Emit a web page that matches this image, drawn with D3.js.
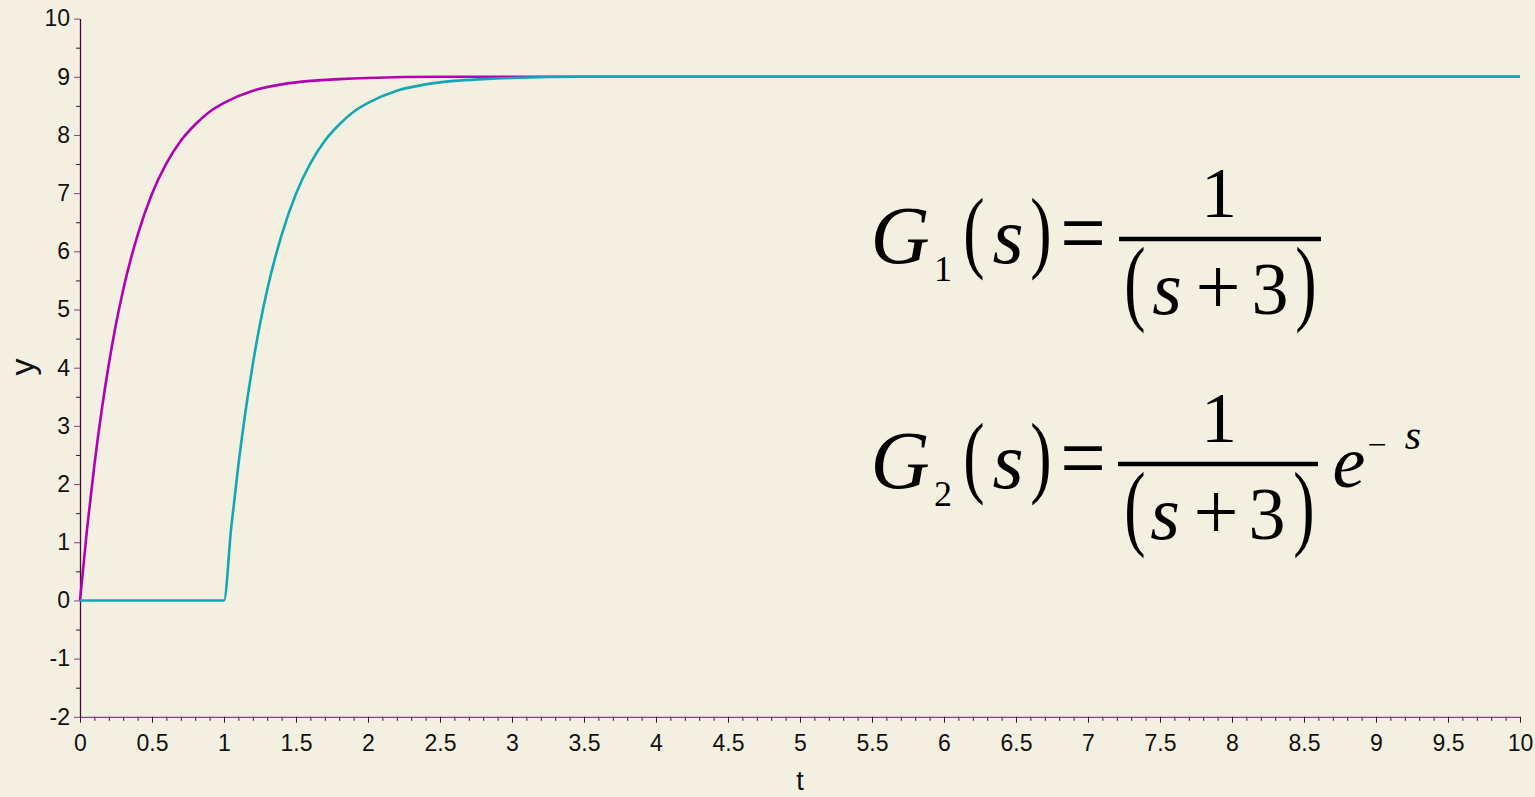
<!DOCTYPE html>
<html>
<head>
<meta charset="utf-8">
<script src="https://cdn.jsdelivr.net/npm/d3@7"></script>
<style>
  html, body { margin: 0; padding: 0; background: #f4f0e1; overflow: hidden; }
  text { font-family: "Liberation Sans", Arial, sans-serif; }
  .eq text { font-family: "Liberation Serif", "Times New Roman", serif; fill: #000; }
</style>
</head>
<body>
<div id="chart"></div>
<script>
// Step responses of G1(s) = 1/(s+3) and G2(s) = e^{-s}/(s+3)

// Time samples and response for G1 (no delay)
const tG1 = [0, 0.05, 0.1, 0.15, 0.2, 0.25, 0.3, 0.4, 0.5, 0.6, 0.7, 0.8, 0.9, 1.0,
             1.2, 1.4, 1.6, 1.8, 2.0, 2.5, 3.0, 4, 5, 6, 7, 8, 9, 10];
const yG1 = [0, 1.25, 2.33, 3.26, 4.06, 4.75, 5.34, 6.28, 6.99, 7.51, 7.90, 8.18, 8.40, 8.55,
             8.76, 8.87, 8.93, 8.96, 8.98, 9.0, 9.0, 9.0, 9.0, 9.0, 9.0, 9.0, 9.0, 9.0];

// Time samples and response for G2 (one second dead time)
const tG2 = [0, 0.5, 1.0, 1.05, 1.1, 1.15, 1.2, 1.25, 1.3, 1.4, 1.5, 1.6, 1.7, 1.8, 1.9, 2.0,
             2.2, 2.4, 2.6, 2.8, 3.0, 3.5, 4, 5, 6, 7, 8, 9, 10];
const yG2 = [0, 0, 0, 1.25, 2.33, 3.26, 4.06, 4.75, 5.34, 6.28, 6.99, 7.51, 7.90, 8.18, 8.40, 8.55,
             8.76, 8.87, 8.93, 8.96, 8.98, 9.0, 9.0, 9.0, 9.0, 9.0, 9.0, 9.0, 9.0];

// Tick values and labels
const xTicks = [0, 0.5, 1, 1.5, 2, 2.5, 3, 3.5, 4, 4.5, 5, 5.5, 6, 6.5, 7, 7.5, 8, 8.5, 9, 9.5, 10];
const xTickLabels = ["0", "0.5", "1", "1.5", "2", "2.5", "3", "3.5", "4", "4.5", "5", "5.5",
                     "6", "6.5", "7", "7.5", "8", "8.5", "9", "9.5", "10"];
const yTicks = [-2, -1, 0, 1, 2, 3, 4, 5, 6, 7, 8, 9, 10];
const yTickLabels = ["-2", "-1", "0", "1", "2", "3", "4", "5", "6", "7", "8", "9", "10"];

const W = 1535, H = 797;

const svg = d3.select("#chart")
  .append("svg")
    .attr("width", W)
    .attr("height", H)
    .style("display", "block");

svg.append("rect").attr("width", W).attr("height", H).attr("fill", "#f4f0e1");

// Scales
const x = d3.scaleLinear().domain([0, 10]).range([80, 1520]);
const y = d3.scaleLinear().domain([-2, 10]).range([716.8, 18.6]);

// Minor ticks (every 0.1 on t, every 0.5 on y)
const xMinor = d3.range(0, 101).map(i => i / 10).filter(v => Math.abs(v * 2 - Math.round(v * 2)) > 1e-6);
const yMinor = d3.range(-4, 21).map(i => i / 2).filter(v => v % 1 !== 0);

const axisColor = "#3e1039";

svg.append("g")
  .attr("transform", `translate(0,${y(-2)})`)
  .call(d3.axisBottom(x).tickValues(xMinor).tickSize(4).tickFormat(""))
  .call(g => g.select(".domain").remove())
  .call(g => g.selectAll("line").attr("stroke", axisColor));

svg.append("g")
  .attr("transform", `translate(${x(0)},0)`)
  .call(d3.axisLeft(y).tickValues(yMinor).tickSize(4).tickFormat(""))
  .call(g => g.select(".domain").remove())
  .call(g => g.selectAll("line").attr("stroke", axisColor));

// Major x axis
svg.append("g")
  .attr("transform", `translate(0,${y(-2)})`)
  .call(d3.axisBottom(x).tickValues(xTicks).tickSize(6).tickSizeOuter(0).tickPadding(12)
        .tickFormat((d, i) => xTickLabels[i]))
  .call(g => g.select(".domain").attr("stroke", "#8c3c86").attr("stroke-width", 1.3))
  .call(g => g.selectAll(".tick line").attr("stroke", axisColor))
  .call(g => g.selectAll("text").attr("font-size", 23).attr("fill", "#111")
        .attr("font-family", "Liberation Sans, Arial, sans-serif"));

// Major y axis
svg.append("g")
  .attr("transform", `translate(${x(0)},0)`)
  .call(d3.axisLeft(y).tickValues(yTicks).tickSize(6).tickSizeOuter(0).tickPadding(4)
        .tickFormat((d, i) => yTickLabels[i]))
  .call(g => g.select(".domain").attr("stroke", axisColor).attr("stroke-width", 1.3))
  .call(g => g.selectAll(".tick line").attr("stroke", "#8c3c86"))
  .call(g => g.selectAll("text").attr("font-size", 23).attr("fill", "#111")
        .attr("font-family", "Liberation Sans, Arial, sans-serif"));

// Axis titles
svg.append("text")
  .attr("x", 800).attr("y", 790)
  .attr("text-anchor", "middle")
  .attr("font-size", 27).attr("fill", "#111")
  .text("t");

svg.append("text")
  .attr("transform", `translate(34,367) rotate(-90)`)
  .attr("text-anchor", "middle")
  .attr("font-size", 34).attr("fill", "#111")
  .text("y");

// Response curves
const line = d3.line()
  .x(d => x(d[0]))
  .y(d => y(d[1]))
  .curve(d3.curveMonotoneX);

svg.append("path")
  .datum(tG1.map((t, i) => [t, yG1[i]]))
  .attr("fill", "none")
  .attr("stroke", "#b300b3")
  .attr("stroke-width", 2.6)
  .attr("d", line);

svg.append("path")
  .datum(tG2.map((t, i) => [t, yG2[i]]))
  .attr("fill", "none")
  .attr("stroke", "#12a7b7")
  .attr("stroke-width", 2.6)
  .attr("d", line);

// Transfer function annotations
const eq = svg.append("g").attr("class", "eq");

function glyph(g, str, cx, base, size, italic, sx, sy) {
  g.append("text")
    .attr("transform", `translate(${cx},${base}) scale(${sx || 1},${sy || 1})`)
    .attr("text-anchor", "middle")
    .attr("font-size", size)
    .attr("font-style", italic ? "italic" : "normal")
    .text(str);
}

function leftSide(dy, sub) {
  const g = eq.append("g").attr("transform", `translate(0,${dy})`);
  glyph(g, "G", 900, 263, 82, true);
  glyph(g, sub, 943, 281, 36, false);
  glyph(g, "(", 974, 261, 64, false, 1, 1.41);
  glyph(g, "s", 1008, 263, 80, true);
  glyph(g, ")", 1041, 261, 64, false, 1, 1.41);
  glyph(g, "=", 1083, 264, 94, false, 0.86, 1);
  return g;
}

function fraction(g, x0, x1, shift) {
  g.append("line")
    .attr("x1", x0).attr("x2", x1)
    .attr("y1", 239).attr("y2", 239)
    .attr("stroke", "#000").attr("stroke-width", 4.5);
  glyph(g, "1", 1219, 217, 72, false);
  glyph(g, "(", 1135, 313, 64, false, 1, 1.48);
  glyph(g, "s", 1167 - shift, 314, 76, true);
  glyph(g, "+", 1218 - shift, 314, 80, false);
  glyph(g, "3", 1270 - shift * 1.5, 314, 74, false);
  glyph(g, ")", 1306 - shift, 313, 64, false, 1, 1.48);
}

const g1 = leftSide(0, "1");
fraction(g1, 1119, 1321, 0);

const g2 = leftSide(225, "2");
fraction(g2, 1118, 1318, 2);
glyph(g2, "e", 1349, 262, 74, true);
glyph(g2, "\u2212", 1377, 229, 34, false, 1, 0.8);
glyph(g2, "s", 1413, 224, 42, true);
</script>
</body>
</html>
